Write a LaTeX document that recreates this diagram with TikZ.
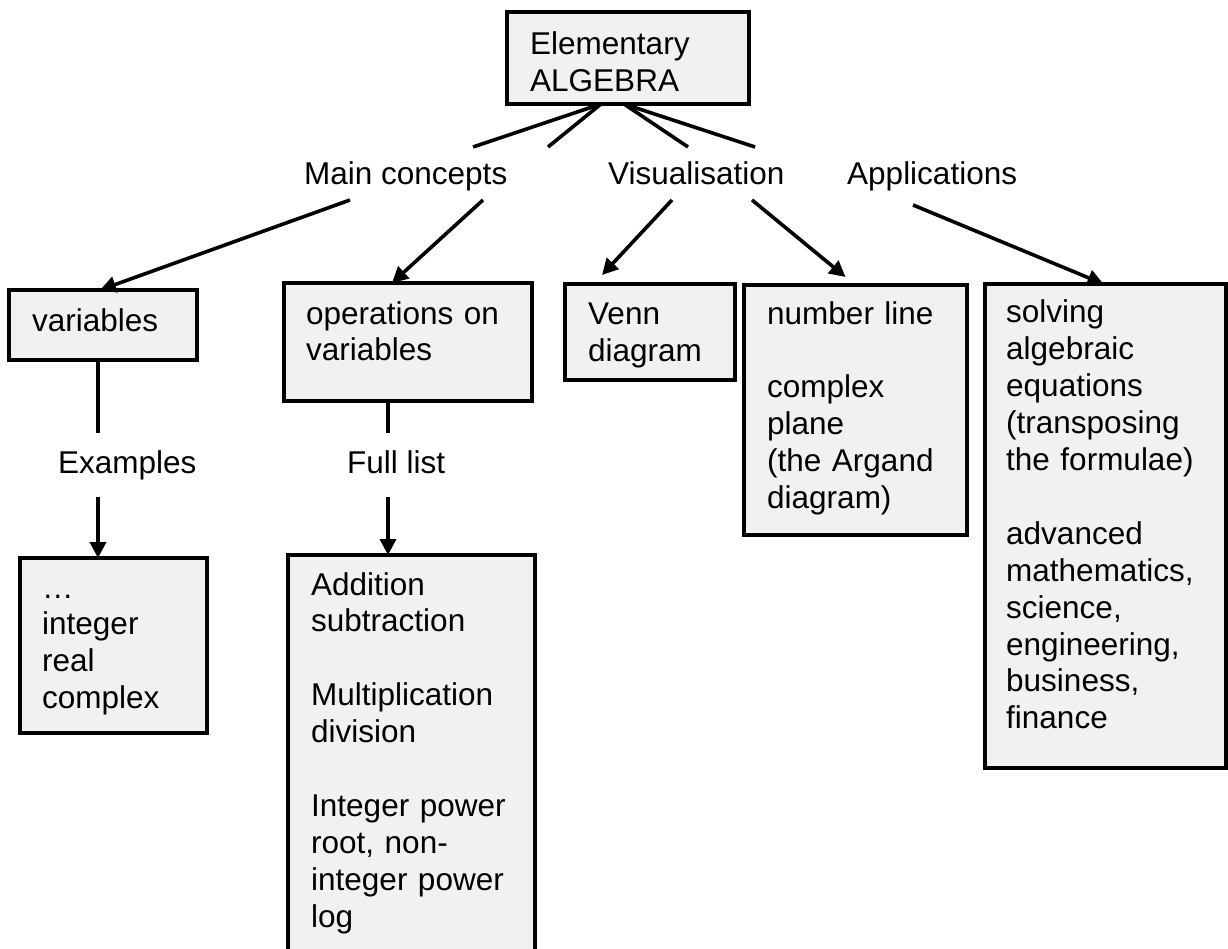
\documentclass[tikz,border=0pt]{standalone}
\usepackage{fontspec}
\setmainfont{Liberation Sans}
\usetikzlibrary{arrows.meta}
\definecolor{boxfill}{RGB}{241,241,241}
\begin{document}
\begin{tikzpicture}[x=1pt,y=-1pt,
  box/.style={draw, line width=3.9pt, fill=boxfill, rectangle, inner sep=0pt, outer sep=0pt, anchor=north west},
  txt/.style={anchor=base west, inner sep=0pt, align=left, text width=215pt, font=\fontsize{31.5}{36.9}\selectfont},
  lbl/.style={anchor=base west, inner sep=0pt, font=\fontsize{31.5}{36.9}\selectfont},
  con/.style={line width=3.6pt},
  arr/.style={con, -{Triangle[length=16pt,width=16pt]}}]
\useasboundingbox (0,0) rectangle (1228,949);
\clip (0,0) rectangle (1228,949);
\fill[white] (0,0) rectangle (1228,949);

% boxes
\node[box, minimum width=242pt, minimum height=92pt]  (top)  at (507,12) {};
\node[box, minimum width=188pt, minimum height=70pt]  (var)  at (9,290) {};
\node[box, minimum width=248pt, minimum height=118pt] (ops)  at (284,283) {};
\node[box, minimum width=170pt, minimum height=96pt]  (venn) at (565,284) {};
\node[box, minimum width=223pt, minimum height=250pt] (numl) at (744,285) {};
\node[box, minimum width=241pt, minimum height=484pt] (solv) at (985,284) {};
\node[box, minimum width=187pt, minimum height=175pt] (ex)   at (20,558) {};
\node[box, minimum width=247pt, minimum height=420pt] (add)  at (288,555) {};

% box texts
\node[txt] (ttop)  at (530,55)  {Elementary\\ALGEBRA};
\node[txt] (tvar)  at (32,332)  {variables};
\node[txt] (tops)  at (306,324) {operations on\\variables};
\node[txt] (tvenn) at (588,325) {Venn\\diagram};
\node[txt] (tnuml) at (767,324) {number line\\[36.9pt]complex\\plane\\(the Argand\\diagram)};
\node[txt] (tsolv) at (1006,323) {solving\\algebraic\\equations\\(transposing\\the formulae)\\[36.9pt]advanced\\mathematics,\\science,\\engineering,\\business,\\finance};
\node[txt] (tex)   at (42,598)  {…\\integer\\real\\complex};
\node[txt] (tadd)  at (311,595) {Addition\\subtraction\\[36.9pt]Multiplication\\division\\[36.9pt]Integer power\\root, non-\\integer power\\log};

% labels
\node[lbl] (mc)  at (304,185) {Main concepts};
\node[lbl] (vis) at (608,185) {Visualisation};
\node[lbl] (app) at (847,185) {Applications};
\node[lbl] (exl) at (58,473)  {Examples};
\node[lbl] (fl)  at (347,473) {Full list};

% free ends near labels
\coordinate (a1) at (473,147);
\coordinate (a2) at (548,147);
\coordinate (a3) at (688,147);
\coordinate (a4) at (755,147);
\coordinate (b1) at (350,200);
\coordinate (b2) at (483,200);
\coordinate (b3) at (672,200);
\coordinate (b4) at (752,200);
\coordinate (b5) at (913,205);
\coordinate (c1) at (98,433);
\coordinate (c2) at (98,497);
\coordinate (d1) at (388,433);
\coordinate (d2) at (388,497);

% connectors from top box
\draw[con] ([xshift=-27pt]top.south) -- (a1);
\draw[con] ([xshift=-27pt]top.south) -- (a2);
\draw[con] ([xshift=-4pt]top.south) -- (a3);
\draw[con] ([xshift=-4pt]top.south) -- (a4);

% arrows to second row
\draw[arr] (b1) -- ([xshift=-3pt]var.north);
\draw[arr] (b2) -- ([xshift=-16pt]ops.north);
\draw[arr] (b3) -- ([xshift=-48pt,yshift=9pt]venn.north);
\draw[arr] (b4) -- ([xshift=-10pt,yshift=8pt]numl.north);
\draw[arr] (b5) -- ([xshift=-2pt]solv.north);

% lower connectors
\draw[con] ([xshift=-5pt]var.south) -- (c1);
\draw[arr] (c2) -- ([xshift=-15.5pt]ex.north);
\draw[con] ([xshift=-20pt]ops.south) -- (d1);
\draw[arr] (d2) -- ([xshift=-23.5pt]add.north);
\end{tikzpicture}
\end{document}
